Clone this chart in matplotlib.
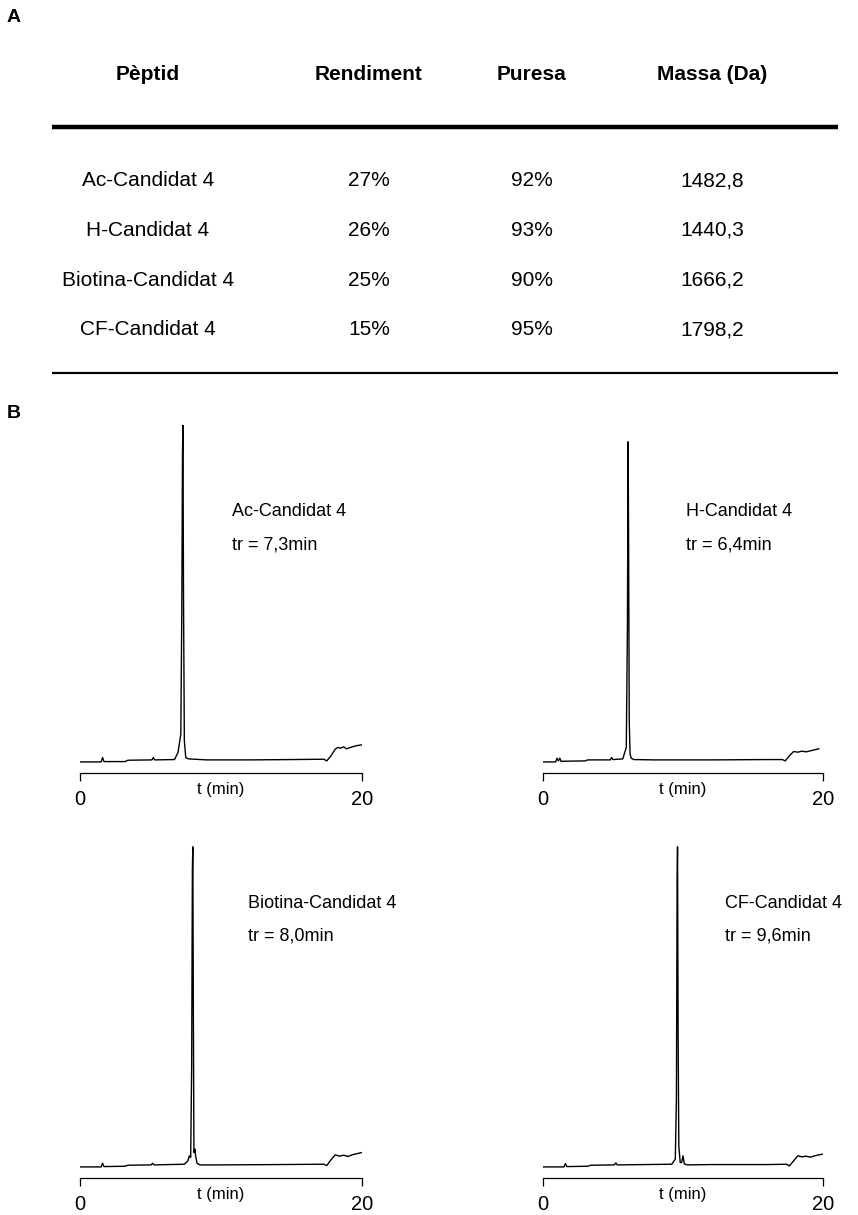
import matplotlib
matplotlib.use("Agg")
import matplotlib.pyplot as plt
import numpy as np

plt.rcParams['font.family'] = ['Liberation Sans', 'DejaVu Sans']

# Table A
col_headers = ["Pèptid", "Rendiment", "Puresa", "Massa (Da)"]
peptides = ["Ac-Candidat 4", "H-Candidat 4", "Biotina-Candidat 4", "CF-Candidat 4"]
rendiment = ["27%", "26%", "25%", "15%"]
puresa = ["92%", "93%", "90%", "95%"]
massa = ["1482,8", "1440,3", "1666,2", "1798,2"]

# Chromatograms B (t in min, signal as % of the tallest peak)
t_ac = [0, 1.5, 1.6, 1.7, 3.2, 3.4, 5.1, 5.2, 5.3, 6.7, 6.95, 7.15, 7.22, 7.27, 7.3, 7.34, 7.4,
        7.5, 7.7, 9.0, 12.0, 15.0, 17.3, 17.5, 17.8, 18.1, 18.3, 18.5, 18.7, 18.9, 19.1, 19.4,
        19.7, 20.0]
y_ac = [-0.3, -0.3, 1.0, -0.2, -0.2, 0.2, 0.3, 1.0, 0.3, 0.4, 2.5, 8, 45, 92, 100, 50, 6,
        1.0, 0.6, 0.3, 0.3, 0.4, 0.5, 0.0, 1.5, 3.5, 4.0, 3.8, 4.2, 3.6, 3.9, 4.3,
        4.6, 4.8]

t_h = [0, 0.9, 1.0, 1.1, 1.2, 1.3, 1.4, 3.0, 3.2, 4.8, 4.9, 5.0, 5.7, 5.85, 5.95, 6.03, 6.08,
       6.12, 6.16, 6.22, 6.3, 6.5, 8.0, 12.0, 16.0, 17.1, 17.3, 17.6, 17.9, 18.2, 18.5, 18.8,
       19.1, 19.4, 19.7]
y_h = [-0.3, -0.3, 0.8, 0.0, 0.8, -0.2, -0.1, 0.0, 0.3, 0.3, 1.0, 0.4, 0.6, 2.7, 4, 40, 95,
       60, 12, 2.0, 0.8, 0.4, 0.3, 0.3, 0.4, 0.4, 0.0, 1.5, 2.8, 2.6, 2.9, 2.7,
       3.0, 3.3, 3.6]

t_bio = [0, 1.5, 1.6, 1.7, 3.2, 3.4, 5.05, 5.15, 5.25, 7.4, 7.65, 7.75, 7.85, 7.92, 7.97, 8.0,
         8.04, 8.08, 8.15, 8.2, 8.3, 8.5, 10, 14, 17.3, 17.5, 17.8, 18.1, 18.4, 18.7, 19.0,
         19.3, 19.6, 20.0]
y_bio = [-0.3, -0.3, 0.8, -0.2, -0.1, 0.2, 0.3, 0.8, 0.3, 0.5, 1.5, 3.0, 2.5, 30, 88, 95,
         45, 4, 5.0, 3.0, 0.8, 0.3, 0.3, 0.4, 0.5, 0.1, 1.8, 3.3, 2.9, 3.2, 2.8,
         3.3, 3.6, 4.0]

t_cf = [0, 1.5, 1.6, 1.7, 3.2, 3.4, 5.1, 5.2, 5.3, 9.2, 9.45, 9.53, 9.58, 9.61, 9.65, 9.7,
        9.8, 9.9, 10.0, 10.1, 10.3, 12, 16, 17.4, 17.6, 17.9, 18.2, 18.5, 18.8, 19.1, 19.4,
        19.7, 20.0]
y_cf = [-0.3, -0.3, 0.7, -0.2, -0.1, 0.2, 0.3, 0.9, 0.3, 0.5, 2.0, 20, 85, 95, 40, 6,
        1.0, 1.0, 3.0, 0.6, 0.3, 0.4, 0.4, 0.5, 0.0, 1.5, 3.0, 2.7, 2.9, 2.6, 3.0,
        3.3, 3.5]

labels = ["Ac-Candidat 4", "H-Candidat 4", "Biotina-Candidat 4", "CF-Candidat 4"]
tr = ["7,3", "6,4", "8,0", "9,6"]

W, H = 858, 1215
fig = plt.figure(figsize=(W / 100, H / 100), dpi=100)

# overlay in pixel units for the table and panel letters
ov = fig.add_axes([0, 0, 1, 1])
ov.set_xlim(0, W)
ov.set_ylim(H, 0)
ov.axis("off")

ov.text(14, 18, "A", fontsize=14, fontweight="bold", ha="center", va="center")
ov.text(14, 414, "B", fontsize=14, fontweight="bold", ha="center", va="center")

col_x = [148, 369, 532, 712]
for x, h in zip(col_x, col_headers):
    ov.text(x, 75, h, fontsize=15, fontweight="bold", ha="center", va="center")
ov.plot([52, 838], [127, 127], color="black", lw=3.2, solid_capstyle="butt")
ov.plot([52, 838], [373, 373], color="black", lw=1.6, solid_capstyle="butt")

row_y0, row_dy = 181, 49.5
for i in range(len(peptides)):
    y = row_y0 + i * row_dy
    for x, v in zip(col_x, [peptides[i], rendiment[i], puresa[i], massa[i]]):
        ov.text(x, y, v, fontsize=15, ha="center", va="center")

# chromatogram panels: [left, right, top, bottom] in pixels
boxes = [(80, 362, 425, 773), (543, 823, 425, 773),
         (80, 362, 830, 1178), (543, 823, 830, 1178)]
# label anchor (x, y of name, y of tr) in axes fraction
label_pos = [(0.538, 0.75, 0.655), (0.511, 0.75, 0.655),
             (0.596, 0.79, 0.695), (0.65, 0.79, 0.695)]
traces = [(t_ac, y_ac), (t_h, y_h), (t_bio, y_bio), (t_cf, y_cf)]

for (l, r, top, bot), (t, y), name, trv, (lx, ly1, ly2) in zip(boxes, traces, labels, tr, label_pos):
    ax = fig.add_axes([l / W, 1 - bot / H, (r - l) / W, (bot - top) / H])
    ax.plot(t, y, color="black", lw=1.0)
    ax.set_xlim(0, 20)
    ax.set_ylim(-3.6, 100)
    for s in ["top", "left", "right"]:
        ax.spines[s].set_visible(False)
    ax.spines["bottom"].set_linewidth(0.9)
    ax.set_yticks([])
    ax.set_xticks([0, 20])
    ax.set_xticklabels(["0", "20"], fontsize=14.5)
    ax.tick_params(axis="x", length=6, width=0.9, pad=6)
    ax.annotate("t (min)", xy=(0.5, 0), xycoords="axes fraction",
                xytext=(0, -12), textcoords="offset points",
                ha="center", va="center", fontsize=12)
    ax.text(lx, ly1, name, transform=ax.transAxes, fontsize=13, va="center")
    ax.text(lx, ly2, "tr = " + trv + "min", transform=ax.transAxes,
            fontsize=13, va="center")
    ax.patch.set_alpha(0)

fig.savefig("out.png", dpi=100)
